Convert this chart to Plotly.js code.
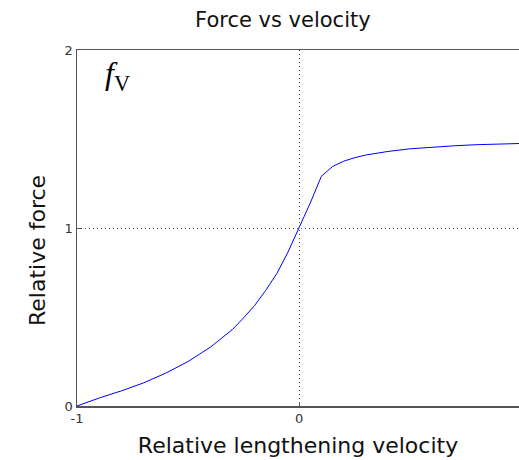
<!DOCTYPE html>
<html>
<head>
<meta charset="utf-8">
<script src="https://cdn.plot.ly/plotly-3.0.1.min.js"></script>
<style>html,body{margin:0;padding:0;background:#fff;}#chart{width:519px;height:460px;}</style>
</head>
<body>
<div id="chart"></div>
<script>
const velocity = [-1.0, -0.9, -0.8, -0.7, -0.6, -0.5, -0.45, -0.4, -0.35, -0.3, -0.25, -0.2, -0.15, -0.1, -0.05, 0.0, 0.05, 0.1, 0.15, 0.2, 0.25, 0.3, 0.4, 0.5, 0.6, 0.7, 0.8, 0.9, 1.0];
const force = [0.0, 0.045, 0.085, 0.13, 0.185, 0.25, 0.29, 0.33, 0.38, 0.43, 0.495, 0.565, 0.65, 0.745, 0.865, 1.0, 1.14, 1.29, 1.345, 1.375, 1.395, 1.41, 1.43, 1.445, 1.455, 1.462, 1.468, 1.472, 1.475];
const xTicks = [-1, 0, 1];
const yTicks = [0, 1, 2];

const font = 'DejaVu Sans, Verdana, sans-serif';

Plotly.newPlot('chart', [{
  x: velocity, y: force, type: 'scatter', mode: 'lines',
  line: {color: '#0000ff', width: 1}, hoverinfo: 'skip'
}], {
  width: 519, height: 460,
  margin: {l: 77, r: 0, t: 50, b: 54},
  paper_bgcolor: '#fff', plot_bgcolor: '#fff',
  showlegend: false,
  font: {family: font, color: '#222'},
  title: {text: 'Force vs velocity', font: {family: font, size: 21, color: '#111'},
          xref: 'container', x: 0.545, xanchor: 'center', yref: 'container', y: 0.957, yanchor: 'middle'},
  xaxis: {
    range: [-1, 0.99], tickvals: xTicks, ticktext: xTicks.map(String),
    showline: true, mirror: true, linecolor: '#555', linewidth: 1.5,
    ticks: 'inside', ticklen: 4, tickcolor: '#555',
    showgrid: true, gridcolor: '#444', griddash: '1px,3px', gridwidth: 1,
    zeroline: false, tickfont: {size: 13, color: '#333'},
    title: {text: 'Relative lengthening velocity', font: {family: font, size: 22, color: '#111'}, standoff: 12}
  },
  yaxis: {
    range: [0, 2], tickvals: yTicks, ticktext: yTicks.map(String),
    showline: true, mirror: false, linecolor: '#555', linewidth: 1.5,
    ticks: 'inside', ticklen: 4, tickcolor: '#555',
    showgrid: true, gridcolor: '#444', griddash: '1px,3px', gridwidth: 1,
    zeroline: false, tickfont: {size: 13, color: '#333'}
  },
  annotations: [
    {text: 'Relative force', textangle: -90, xref: 'paper', yref: 'paper',
     x: (37 - 77) / 442, y: (406 - 251) / 356, xanchor: 'center', yanchor: 'middle',
     showarrow: false, font: {family: font, size: 22, color: '#111'}},
    {text: '<i>f</i><sub>V</sub>', xref: 'paper', yref: 'paper',
     x: (103 - 77) / 442, y: (406 - 76) / 356, xanchor: 'left', yanchor: 'middle',
     showarrow: false, font: {family: 'Liberation Serif, DejaVu Serif, serif', size: 32, color: '#000'}}
  ]
}, {staticPlot: true, displayModeBar: false});
</script>
</body>
</html>
